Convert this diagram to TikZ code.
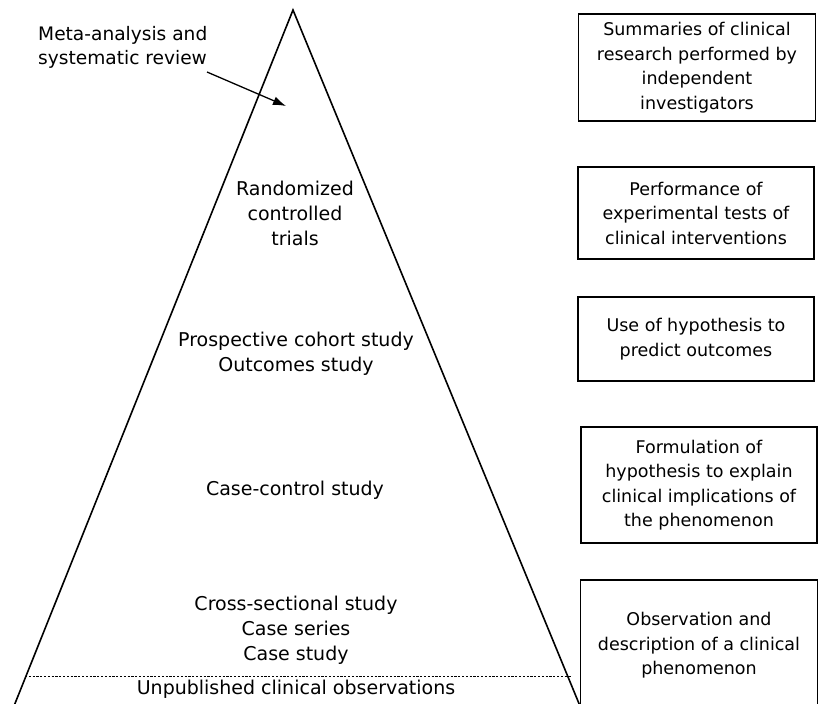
\documentclass[tikz,border=0pt]{standalone}
\usepackage{fontspec}
\setmainfont{DejaVu Sans}
\usetikzlibrary{arrows.meta}
\begin{document}
\begin{tikzpicture}[x=1pt,y=-1pt,
  txt/.style={font=\fontsize{17.5}{24.5}\selectfont, align=center, inner sep=0pt},
  ptxt/.style={font=\fontsize{19}{25}\selectfont, align=center, inner sep=0pt},
  infobox/.style={draw, line width=1.3pt, txt},
  ]
\useasboundingbox (0,0) rectangle (820,704);
% pyramid
\coordinate (apex) at (293,10);
\coordinate (bl) at (14,706);
\coordinate (br) at (580,706);
\draw[line width=1.6pt, line join=miter] (bl) -- (apex) -- (br);
\coordinate (dl) at (25,676);
\coordinate (dr) at (571,676);
\draw[line width=1pt, dash pattern=on 2.2pt off 1.6pt] (dl) -- (dr);
% pyramid texts
\node[ptxt, font=\fontsize{18.6}{24}\selectfont, anchor=west, align=left] (meta) at (38,47) {Meta-analysis and\\systematic review};
\coordinate (mstart) at (207,72);
\coordinate (mtip) at (286,106);
\draw[line width=1.3pt, -{Latex[length=13pt,width=9pt]}] (mstart) -- (mtip);
\node[ptxt] (rct) at (295,213) {Randomized\\controlled\\trials};
\node[ptxt] (pcs) at (296,354) {Prospective cohort study\\Outcomes study};
\node[ptxt] (ccs) at (295,490) {Case-control study};
\node[ptxt] (css) at (296,630) {Cross-sectional study\\Case series\\Case study};
\node[ptxt] (unp) at (296,689) {Unpublished clinical observations};
% right boxes
\node[infobox, minimum width=237pt, minimum height=107pt] (b1) at (697,67.5) {Summaries of clinical\\research performed by\\independent\\investigators};
\node[infobox, minimum width=236pt, minimum height=92pt] (b2) at (696,213) {Performance of\\experimental tests of\\clinical interventions};
\node[infobox, minimum width=236pt, minimum height=84pt] (b3) at (696,339) {Use of hypothesis to\\predict outcomes};
\node[infobox, minimum width=236pt, minimum height=116pt] (b4) at (699,485) {Formulation of\\hypothesis to explain\\clinical implications of\\the phenomenon};
\node[txt, minimum width=236pt, minimum height=130pt, anchor=north] (b5) at (699,580) {Observation and\\description of a clinical\\phenomenon};
\draw[line width=1.3pt] (b5.south west) -- (b5.north west) -- (b5.north east) -- (b5.south east);
\end{tikzpicture}
\end{document}
